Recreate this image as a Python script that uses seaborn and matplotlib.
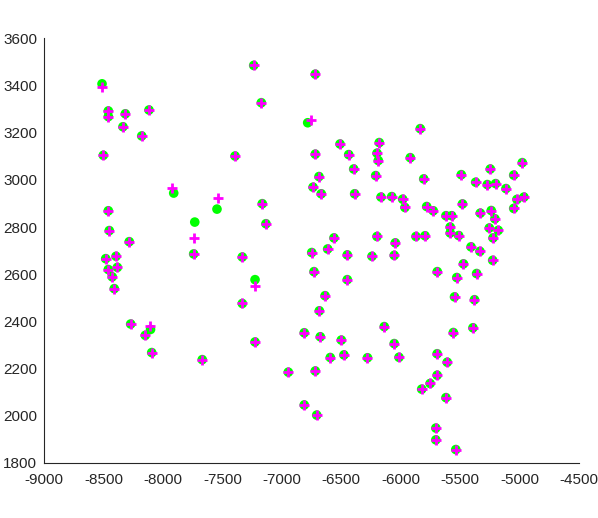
import matplotlib
matplotlib.use("Agg")
import matplotlib.pyplot as plt
import seaborn as sns

green_x = [-8512, -8459, -8459, -8316, -8117, -8336, -8178, -8501, -7909, -7545,
           -7732, -8459, -8451, -8283, -7741, -8481, -8394, -8459, -8383, -8426,
           -8409, -8271, -8104, -8148, -8094, -7669, -7236, -6718, -7172, -6782,
           -7393, -6718, -6510, -6437, -6395, -6687, -6737, -6668, -6387, -7164,
           -7133, -6561, -6614, -6748, -6449, -7332, -7225, -6729, -6449, -6636,
           -7332, -6684, -6811, -6676, -6499, -7225, -6592, -6477, -6279, -6945,
           -6718, -6811, -6706, -5835, -6180, -6199, -6188, -5919, -6210, -5806,
           -5490, -6165, -6075, -5983, -5964, -5781, -5726, -5480, -5619, -5571,
           -5583, -5583, -5512, -6199, -5871, -5795, -6045, -6241, -6054, -5692,
           -5472, -5528, -5547, -6138, -5557, -6054, -6014, -5693, -5608, -5693,
           -5752, -5823, -5619, -5704, -5704, -5536, -4977, -5246, -5049, -5369,
           -5271, -5201, -5114, -5022, -4963, -5049, -5330, -5238, -5207, -5254,
           -5179, -5223, -5408, -5333, -5226, -5361, -5379, -5392]
green_y = [3407, 3292, 3268, 3280, 3296, 3225, 3186, 3104, 2944, 2876,
           2821, 2869, 2785, 2738, 2686, 2666, 2676, 2620, 2629, 2589,
           2539, 2389, 2366, 2341, 2268, 2238, 3485, 3448, 3327, 3242,
           3101, 3109, 3152, 3107, 3046, 3014, 2969, 2941, 2941, 2899,
           2814, 2754, 2707, 2692, 2682, 2673, 2577, 2611, 2577, 2509,
           2476, 2445, 2352, 2335, 2321, 2313, 2247, 2258, 2246, 2185,
           2190, 2046, 2003, 3217, 3158, 3113, 3082, 3094, 3018, 3004,
           3022, 2927, 2929, 2918, 2883, 2887, 2869, 2898, 2848, 2848,
           2800, 2775, 2764, 2760, 2760, 2763, 2733, 2676, 2680, 2611,
           2644, 2586, 2504, 2378, 2353, 2306, 2248, 2263, 2227, 2172,
           2137, 2113, 2077, 1948, 1898, 1857, 3073, 3046, 3020, 2990,
           2980, 2984, 2963, 2917, 2927, 2879, 2859, 2870, 2835, 2796,
           2786, 2754, 2716, 2697, 2659, 2603, 2492, 2373]

plus_x = [-8512, -8459, -8459, -8316, -8117, -8336, -8178, -8501, -7921, -7536,
          -7741, -8459, -8451, -8283, -7741, -8481, -8394, -8459, -8383, -8426,
          -8409, -8271, -8106, -8148, -8094, -7669, -7236, -6718, -7172, -6757,
          -7393, -6718, -6510, -6437, -6395, -6687, -6737, -6668, -6387, -7164,
          -7133, -6561, -6614, -6748, -6449, -7332, -7225, -6729, -6449, -6636,
          -7332, -6684, -6811, -6676, -6499, -7225, -6592, -6477, -6279, -6945,
          -6718, -6811, -6706, -5835, -6180, -6199, -6188, -5919, -6210, -5806,
          -5490, -6165, -6075, -5983, -5964, -5781, -5726, -5480, -5619, -5571,
          -5583, -5583, -5512, -6199, -5871, -5795, -6045, -6241, -6054, -5692,
          -5472, -5528, -5547, -6138, -5557, -6054, -6014, -5693, -5608, -5693,
          -5752, -5823, -5619, -5704, -5704, -5536, -4977, -5246, -5049, -5369,
          -5271, -5201, -5114, -5022, -4963, -5049, -5330, -5238, -5207, -5254,
          -5179, -5223, -5408, -5333, -5226, -5361, -5379, -5392]
plus_y = [3393, 3292, 3268, 3280, 3296, 3225, 3186, 3104, 2967, 2921,
          2752, 2869, 2785, 2738, 2686, 2666, 2676, 2620, 2629, 2589,
          2539, 2389, 2379, 2341, 2268, 2238, 3485, 3448, 3327, 3255,
          3101, 3109, 3152, 3107, 3046, 3014, 2969, 2941, 2941, 2899,
          2814, 2754, 2707, 2692, 2682, 2673, 2549, 2611, 2577, 2509,
          2476, 2445, 2352, 2335, 2321, 2313, 2247, 2258, 2246, 2185,
          2190, 2046, 2003, 3217, 3158, 3113, 3082, 3094, 3018, 3004,
          3022, 2927, 2929, 2918, 2883, 2887, 2869, 2898, 2848, 2848,
          2800, 2775, 2764, 2760, 2760, 2763, 2733, 2676, 2680, 2611,
          2644, 2586, 2504, 2378, 2353, 2306, 2248, 2263, 2227, 2172,
          2137, 2113, 2077, 1948, 1898, 1857, 3073, 3046, 3020, 2990,
          2980, 2984, 2963, 2917, 2927, 2879, 2859, 2870, 2835, 2796,
          2786, 2754, 2716, 2697, 2659, 2603, 2492, 2373]

x_ticks = [-9000, -8500, -8000, -7500, -7000, -6500, -6000, -5500, -5000, -4500]
y_ticks = [1800, 2000, 2200, 2400, 2600, 2800, 3000, 3200, 3400, 3600]

sns.set_style("white")
plt.rcParams["font.family"] = ["Liberation Sans", "DejaVu Sans"]

fig = plt.figure(figsize=(5.98, 5.18), dpi=100)
ax = fig.add_axes([0.0736, 0.1062, 0.8946, 0.8199])

sns.scatterplot(x=green_x, y=green_y, ax=ax, color="#00ff00", s=48,
                edgecolor="none", marker="o", zorder=2)
sns.scatterplot(x=plus_x, y=plus_y, ax=ax, color="#ff00ff", s=60,
                marker="+", linewidth=2.0, zorder=3)

ax.set_xlim(-9000, -4500)
ax.set_ylim(1800, 3600)
ax.set_xticks(x_ticks)
ax.set_yticks(y_ticks)
ax.set_xticklabels([str(v) for v in x_ticks])
ax.set_yticklabels([str(v) for v in y_ticks])

for s in ["top", "right"]:
    ax.spines[s].set_visible(False)
for s in ["left", "bottom"]:
    ax.spines[s].set_color("#262626")
    ax.spines[s].set_linewidth(0.8)

ax.tick_params(axis="both", direction="in", length=4.3, width=0.8,
               color="#262626", labelcolor="#262626", labelsize=11)
ax.tick_params(axis="x", pad=7.5)
ax.tick_params(axis="y", pad=5)
ax.grid(False)

fig.savefig("out.png", dpi=100)
